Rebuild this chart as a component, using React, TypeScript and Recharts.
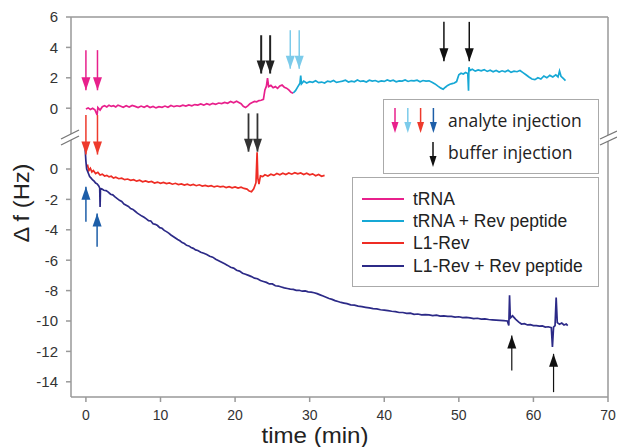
import { ComposedChart, Line, XAxis, YAxis, ReferenceLine, ReferenceDot } from "recharts"

// the axis is broken: upper panel's 0 sits at 4 on the continuous scale
const UPPER_OFFSET = 4

const timeTicks = [0, 10, 20, 30, 40, 50, 60, 70]
const dfTicks = [-14, -12, -10, -8, -6, -4, -2, 0, 4, 6, 8, 10]

// [time (min), Δf (Hz)] — upper panel
const tRNA: [number, number][] = [
  [0, -0.05], [0.3, 0.02], [0.6, -0.08], [0.9, 0.0], [1.2, -0.1], [1.5, -0.45], [1.6, 0.05], [1.9, -0.12],
  [2.2, 0.1], [2.5, 0.16], [2.8, 0.08], [3.1, 0.2], [3.4, 0.12], [3.7, 0.16], [4.0, 0.08], [4.3, 0.2],
  [4.6, 0.14], [5.0, 0.06], [5.4, 0.16], [5.8, 0.08], [6.2, 0.18], [6.6, 0.12], [7.0, 0.04], [7.4, 0.14],
  [7.8, 0.06], [8.2, 0.16], [8.6, 0.04], [9.0, 0.12], [9.4, 0.02], [9.8, 0.1], [10.2, 0.06], [10.6, 0.14],
  [11.0, 0.06], [11.4, 0.18], [11.8, 0.1], [12.2, 0.16], [12.6, 0.12], [13.0, 0.2], [13.4, 0.14], [13.8, 0.22],
  [14.2, 0.16], [14.6, 0.24], [15.0, 0.2], [15.4, 0.28], [15.8, 0.2], [16.2, 0.3], [16.6, 0.22], [17.0, 0.32],
  [17.4, 0.26], [17.8, 0.34], [18.2, 0.3], [18.6, 0.38], [19.0, 0.32], [19.4, 0.44], [19.8, 0.36], [20.2, 0.46],
  [20.5, 0.38], [20.8, 0.3], [21.1, 0.12], [21.4, 0.05], [21.7, 0.15], [22.0, 0.3], [22.3, 0.38], [22.6, 0.45],
  [22.9, 0.42], [23.2, 0.5], [23.5, 0.52], [23.8, 0.58], [24.0, 1.2], [24.2, 1.45], [24.35, 1.98], [24.5, 1.42],
  [24.8, 1.5], [25.1, 1.35], [25.4, 1.42], [25.7, 1.3], [26.0, 1.46], [26.3, 1.52], [26.6, 1.38], [26.9, 1.32],
  [27.2, 1.2], [27.5, 1.05], [27.8, 0.98],
]

const tRNARev: [number, number][] = [
  [27.8, 1.0], [28.1, 1.15], [28.4, 1.4], [28.7, 1.65], [28.8, 2.15], [28.9, 1.6], [29.2, 1.78], [29.6, 1.66],
  [30.0, 1.74], [30.4, 1.7], [30.8, 1.8], [31.2, 1.68], [31.6, 1.72], [32.0, 1.66], [32.4, 1.78], [32.8, 1.74],
  [33.2, 1.82], [33.6, 1.7], [34.0, 1.74], [34.4, 1.78], [34.8, 1.84], [35.2, 1.72], [35.6, 1.78], [36.0, 1.74],
  [36.4, 1.86], [36.8, 1.76], [37.2, 1.8], [37.6, 1.72], [38.0, 1.84], [38.4, 1.78], [38.8, 1.82], [39.2, 1.74],
  [39.6, 1.8], [40.0, 1.76], [40.4, 1.86], [40.8, 1.78], [41.2, 1.84], [41.6, 1.74], [42.0, 1.8], [42.4, 1.78],
  [42.8, 1.86], [43.2, 1.76], [43.6, 1.82], [44.0, 1.8], [44.4, 1.84], [44.8, 1.74], [45.2, 1.82], [45.6, 1.78],
  [46.0, 1.8], [46.4, 1.7], [46.8, 1.6], [47.2, 1.45], [47.6, 1.32], [47.9, 1.25], [48.2, 1.38], [48.5, 1.5],
  [48.8, 1.58], [49.1, 1.62], [49.4, 1.66], [49.7, 1.75], [50.0, 2.2], [50.3, 2.3], [50.6, 2.25], [50.9, 2.35],
  [51.2, 2.28], [51.3, 1.15], [51.35, 2.7], [51.5, 2.48], [51.8, 2.56], [52.2, 2.44], [52.6, 2.52], [53.0, 2.46],
  [53.4, 2.54], [53.8, 2.42], [54.2, 2.5], [54.6, 2.4], [55.0, 2.48], [55.4, 2.38], [55.8, 2.46], [56.2, 2.4],
  [56.6, 2.5], [57.0, 2.36], [57.4, 2.44], [57.8, 2.4], [58.2, 2.48], [58.6, 2.34], [59.0, 2.2], [59.4, 2.05],
  [59.8, 1.92], [60.2, 1.88], [60.6, 2.0], [61.0, 1.92], [61.4, 2.12], [61.8, 2.0], [62.2, 2.16], [62.6, 2.06],
  [63.0, 2.2], [63.3, 2.06], [63.5, 2.45], [63.7, 2.1], [64.0, 1.96], [64.3, 1.82],
]

// lower panel
const l1Rev: [number, number][] = [
  [0.2, 0.3], [0.4, -0.1], [0.6, 0.05], [0.8, -0.2], [1.0, -0.1], [1.3, -0.3], [1.6, -0.22], [1.9, -0.4],
  [2.2, -0.34], [2.5, -0.46], [2.8, -0.42], [3.1, -0.52], [3.4, -0.48], [3.7, -0.6], [4.0, -0.54], [4.4, -0.64],
  [4.8, -0.6], [5.2, -0.7], [5.6, -0.66], [6.0, -0.74], [6.4, -0.7], [6.8, -0.8], [7.2, -0.74], [7.6, -0.84],
  [8.0, -0.78], [8.4, -0.86], [8.8, -0.82], [9.2, -0.92], [9.6, -0.86], [10.0, -0.94], [10.4, -0.88], [10.8, -0.96],
  [11.2, -0.92], [11.6, -1.0], [12.0, -0.94], [12.4, -1.02], [12.8, -0.98], [13.2, -1.06], [13.6, -1.0], [14.0, -1.08],
  [14.4, -1.02], [14.8, -1.1], [15.2, -1.04], [15.6, -1.12], [16.0, -1.08], [16.4, -1.14], [16.8, -1.1], [17.2, -1.18],
  [17.6, -1.12], [18.0, -1.18], [18.4, -1.14], [18.8, -1.22], [19.2, -1.16], [19.6, -1.24], [20.0, -1.18], [20.4, -1.26],
  [20.8, -1.2], [21.2, -1.28], [21.6, -1.32], [21.9, -1.45], [22.2, -1.5], [22.5, -1.3], [22.8, -0.9], [22.95, 1.1],
  [23.05, -0.6], [23.2, -1.0], [23.4, -0.45], [23.7, -0.5], [24.0, -0.38], [24.4, -0.46], [24.8, -0.34], [25.2, -0.42],
  [25.6, -0.3], [26.0, -0.38], [26.4, -0.28], [26.8, -0.36], [27.2, -0.26], [27.6, -0.34], [28.0, -0.24], [28.4, -0.32],
  [28.8, -0.26], [29.2, -0.36], [29.6, -0.28], [30.0, -0.38], [30.4, -0.32], [30.8, -0.44], [31.2, -0.36], [31.6, -0.48],
  [32.0, -0.42],
]

const l1RevRev: [number, number][] = [
  [-0.1, 1.3], [0.0, 0.5], [0.1, 0.0], [0.3, -0.25], [0.5, -0.5], [0.7, -0.6], [0.9, -0.72], [1.1, -0.8],
  [1.3, -0.92], [1.5, -0.98], [1.7, -1.1], [1.85, -1.25], [1.9, -2.5], [1.95, -1.35], [2.1, -1.3], [2.4, -1.4],
  [2.7, -1.42], [3.0, -1.52], [3.3, -1.66], [3.6, -1.7], [3.9, -1.84], [4.2, -1.95], [4.5, -2.06], [4.8, -2.14],
  [5.1, -2.3], [5.4, -2.38], [5.7, -2.46], [6.0, -2.6], [6.3, -2.66], [6.6, -2.78], [6.9, -2.9], [7.2, -3.0],
  [7.5, -3.1], [7.8, -3.18], [8.1, -3.28], [8.4, -3.4], [8.7, -3.42], [9.0, -3.6], [9.3, -3.64], [9.6, -3.72],
  [9.9, -3.86], [10.2, -3.9], [10.5, -4.04], [10.8, -4.12], [11.1, -4.22], [11.4, -4.34], [11.7, -4.44], [12.0, -4.54],
  [12.3, -4.64], [12.6, -4.72], [12.9, -4.84], [13.2, -4.9], [13.5, -5.02], [13.8, -5.06], [14.1, -5.16], [14.4, -5.22],
  [14.7, -5.32], [15.0, -5.36], [15.4, -5.48], [15.8, -5.54], [16.2, -5.62], [16.6, -5.74], [17.0, -5.8], [17.4, -5.94],
  [17.8, -6.04], [18.2, -6.14], [18.6, -6.24], [19.0, -6.34], [19.4, -6.46], [19.8, -6.52], [20.2, -6.66], [20.6, -6.72],
  [21.0, -6.86], [21.4, -6.92], [21.8, -7.0], [22.2, -7.08], [22.6, -7.18], [23.0, -7.22], [23.4, -7.34], [23.8, -7.4],
  [24.2, -7.46], [24.6, -7.56], [25.0, -7.56], [25.4, -7.68], [25.8, -7.7], [26.2, -7.76], [26.6, -7.82], [27.0, -7.86],
  [27.4, -7.9], [27.8, -7.92], [28.2, -7.98], [28.6, -7.98], [29.0, -8.04], [29.4, -8.02], [29.8, -8.08], [30.2, -8.1],
  [30.6, -8.14], [31.0, -8.2], [31.4, -8.28], [31.8, -8.36], [32.2, -8.44], [32.6, -8.52], [33.0, -8.58], [33.4, -8.66],
  [33.8, -8.72], [34.2, -8.78], [34.6, -8.82], [35.0, -8.86], [35.5, -8.94], [36.0, -8.96], [36.5, -9.02], [37.0, -9.06],
  [37.5, -9.1], [38.0, -9.14], [38.5, -9.18], [39.0, -9.2], [39.5, -9.26], [40.0, -9.28], [40.5, -9.32], [41.0, -9.36],
  [41.5, -9.38], [42.0, -9.44], [42.5, -9.44], [43.0, -9.5], [43.5, -9.48], [44.0, -9.56], [44.5, -9.54], [45.0, -9.6],
  [45.5, -9.58], [46.0, -9.6], [46.5, -9.64], [47.0, -9.62], [47.5, -9.68], [48.0, -9.66], [48.5, -9.7], [49.0, -9.7],
  [49.5, -9.74], [50.0, -9.72], [50.5, -9.78], [51.0, -9.76], [51.5, -9.8], [52.0, -9.84], [52.5, -9.82], [53.0, -9.88],
  [53.5, -9.86], [54.0, -9.9], [54.5, -9.92], [55.0, -9.94], [55.5, -9.96], [56.0, -9.98], [56.5, -10.0], [56.7, -10.3],
  [56.8, -8.3], [56.9, -9.8], [57.2, -9.66], [57.6, -9.88], [58.0, -10.06], [58.4, -10.2], [58.8, -10.18], [59.2, -10.26],
  [59.6, -10.24], [60.0, -10.3], [60.4, -10.3], [60.8, -10.34], [61.2, -10.32], [61.6, -10.4], [62.0, -10.38], [62.4, -10.44],
  [62.55, -11.7], [62.7, -10.4], [62.9, -10.3], [63.05, -8.45], [63.2, -10.1], [63.5, -10.22], [63.8, -10.14], [64.1, -10.26],
  [64.4, -10.2], [64.6, -10.3],
]

const series = [
  { name: "tRNA", color: "#e8208c", data: tRNA, upper: true },
  { name: "tRNA + Rev peptide", color: "#16a8d5", data: tRNARev, upper: true },
  { name: "L1-Rev", color: "#ee2c24", data: l1Rev, upper: false },
  { name: "L1-Rev + Rev peptide", color: "#2c2a87", data: l1RevRev, upper: false },
]

// injection arrows: time, tail value, tip value (in panel units)
const arrows = [
  { t: 0, from: 3.82, to: 1.18, upper: true, color: "#e8208c", w: 1.5 },
  { t: 1.55, from: 3.82, to: 1.18, upper: true, color: "#e8208c", w: 1.5 },
  { t: 0, from: 3.55, to: 0.95, upper: false, color: "#ee3a2c", w: 1.5 },
  { t: 1.55, from: 3.55, to: 0.95, upper: false, color: "#ee3a2c", w: 1.5 },
  { t: 0, from: -3.47, to: -1.16, upper: false, color: "#1d5ea8", w: 1.5 },
  { t: 1.5, from: -5.11, to: -2.92, upper: false, color: "#1d5ea8", w: 1.5 },
  { t: 23.5, from: 4.8, to: 2.28, upper: true, color: "#222", w: 2 },
  { t: 24.7, from: 4.8, to: 2.28, upper: true, color: "#222", w: 2 },
  { t: 27.4, from: 5.13, to: 2.6, upper: true, color: "#7ccbea", w: 1.5 },
  { t: 28.6, from: 5.13, to: 2.6, upper: true, color: "#7ccbea", w: 1.5 },
  { t: 48, from: 5.68, to: 3.09, upper: true, color: "#111", w: 1.5 },
  { t: 51.4, from: 5.68, to: 3.09, upper: true, color: "#111", w: 1.5 },
  { t: 21.8, from: 3.66, to: 1.14, upper: false, color: "#333", w: 1.8 },
  { t: 23.0, from: 3.66, to: 1.14, upper: false, color: "#333", w: 1.8 },
  { t: 57.1, from: -13.25, to: -10.95, upper: false, color: "#111", w: 1.2 },
  { t: 62.7, from: -14.68, to: -12.16, upper: false, color: "#111", w: 1.2 },
]

const legendArrowColors = ["#e8208c", "#7ccbea", "#ee3a2c", "#1d5ea8"]

const AXIS = "#999"
const font = "'Liberation Sans', Arial, sans-serif"

function arrowHead(color: string, down: boolean) {
  return (p: any) => {
    const { cx, cy } = p
    const w = 4.5
    const h = 13
    const b = down ? cy - h : cy + h
    return <path d={`M${cx - w},${b}L${cx + w},${b}L${cx},${cy}Z`} fill={color} />
  }
}

function Overlay() {
  const rows = [199, 221, 243, 266]
  return (
    <svg width={617} height={447} style={{ position: "absolute", left: 0, top: 0, pointerEvents: "none" }}>
      {/* axis break marks */}
      <polygon points="61,139 79,130 79,136 61,145" fill="#fff" />
      <line x1={61} y1={139} x2={79} y2={130} stroke="#777" strokeWidth={1.3} />
      <line x1={61} y1={145} x2={79} y2={136} stroke="#777" strokeWidth={1.3} />
      <polygon points="600,139 617,131 617,137 600,145" fill="#fff" />
      <line x1={600} y1={139} x2={617} y2={131} stroke="#777" strokeWidth={1.3} />
      <line x1={600} y1={145} x2={617} y2={137} stroke="#777" strokeWidth={1.3} />

      {/* axis titles */}
      <text transform="translate(29,203) rotate(-90)" textAnchor="middle" fontFamily={font} fontSize={22}
        fill="#222" textLength={79} lengthAdjust="spacingAndGlyphs">Δ f (Hz)</text>
      <text x={315} y={443} textAnchor="middle" fontFamily={font} fontSize={22} fill="#222"
        textLength={107} lengthAdjust="spacingAndGlyphs">time (min)</text>

      {/* injection key */}
      <rect x={383.5} y={99.5} width={215} height={74} fill="#fff" stroke="#aaa" />
      {legendArrowColors.map((c, i) => {
        const x = 395 + i * 12.8
        return (
          <g key={c}>
            <line x1={x} y1={108} x2={x} y2={126} stroke={c} strokeWidth={1.5} />
            <path d={`M${x - 3.5},${122}L${x + 3.5},${122}L${x},${133}Z`} fill={c} />
          </g>
        )
      })}
      <line x1={433} y1={142} x2={433} y2={160} stroke="#111" strokeWidth={1.5} />
      <path d="M429.5,156L436.5,156L433,167Z" fill="#111" />
      <text x={448} y={127} fontFamily="'Open Sans', sans-serif" fontSize={17.5} fill="#222">analyte injection</text>
      <text x={448} y={159} fontFamily="'Open Sans', sans-serif" fontSize={17.5} fill="#222">buffer injection</text>

      {/* series key */}
      <rect x={352.5} y={177.5} width={246} height={109} fill="#fff" stroke="#aaa" />
      {series.map((s, i) => (
        <g key={s.name}>
          <line x1={362} y1={rows[i]} x2={404} y2={rows[i]} stroke={s.color} strokeWidth={2} />
          <text x={413} y={rows[i] + 6} fontFamily={font} fontSize={17.5} fill="#222">{s.name}</text>
        </g>
      ))}
    </svg>
  )
}

export default function App() {
  const shift = (upper: boolean) => (upper ? UPPER_OFFSET : 0)
  return (
    <div style={{ position: "absolute", left: 0, top: 0, width: 617, height: 447, background: "#fff" }}>
      <ComposedChart width={617} height={447} margin={{ top: 17, right: 9, bottom: 20, left: 0 }}>
        <XAxis
          type="number"
          dataKey="t"
          domain={[-2, 70]}
          ticks={timeTicks}
          allowDataOverflow
          height={30}
          tickSize={5}
          tickMargin={8}
          stroke={AXIS}
          axisLine={{ stroke: AXIS, strokeWidth: 1.5 }}
          tickLine={{ stroke: AXIS, strokeWidth: 1.5 }}
          tick={{ fontSize: 14, fill: "#333", fontFamily: font }}
        />
        <YAxis
          type="number"
          domain={[-15, 10]}
          ticks={dfTicks}
          allowDataOverflow
          width={71}
          tickSize={5}
          tickMargin={8}
          stroke={AXIS}
          axisLine={{ stroke: AXIS, strokeWidth: 1.5 }}
          tickLine={{ stroke: AXIS, strokeWidth: 1.5 }}
          tick={{ fontSize: 15, fill: "#333", fontFamily: font }}
          tickFormatter={(v: number) => String(v >= UPPER_OFFSET ? v - UPPER_OFFSET : v)}
        />
        <ReferenceLine y={10} stroke={AXIS} strokeWidth={1.5} />
        <ReferenceLine x={70} stroke={AXIS} strokeWidth={1.5} />
        {series.map((s) => (
          <Line
            key={s.name}
            data={s.data.map(([t, v]) => ({ t, v: v + shift(s.upper) }))}
            dataKey="v"
            type="linear"
            stroke={s.color}
            strokeWidth={1.7}
            dot={false}
            isAnimationActive={false}
          />
        ))}
        {arrows.map((a, i) => (
          <ReferenceLine
            key={`s${i}`}
            segment={[{ x: a.t, y: a.from + shift(a.upper) }, { x: a.t, y: a.to + shift(a.upper) }]}
            stroke={a.color}
            strokeWidth={a.w}
          />
        ))}
        {arrows.map((a, i) => (
          <ReferenceDot
            key={`h${i}`}
            x={a.t}
            y={a.to + shift(a.upper)}
            r={5}
            shape={arrowHead(a.color, a.to < a.from)}
          />
        ))}
      </ComposedChart>
      <Overlay />
    </div>
  )
}
